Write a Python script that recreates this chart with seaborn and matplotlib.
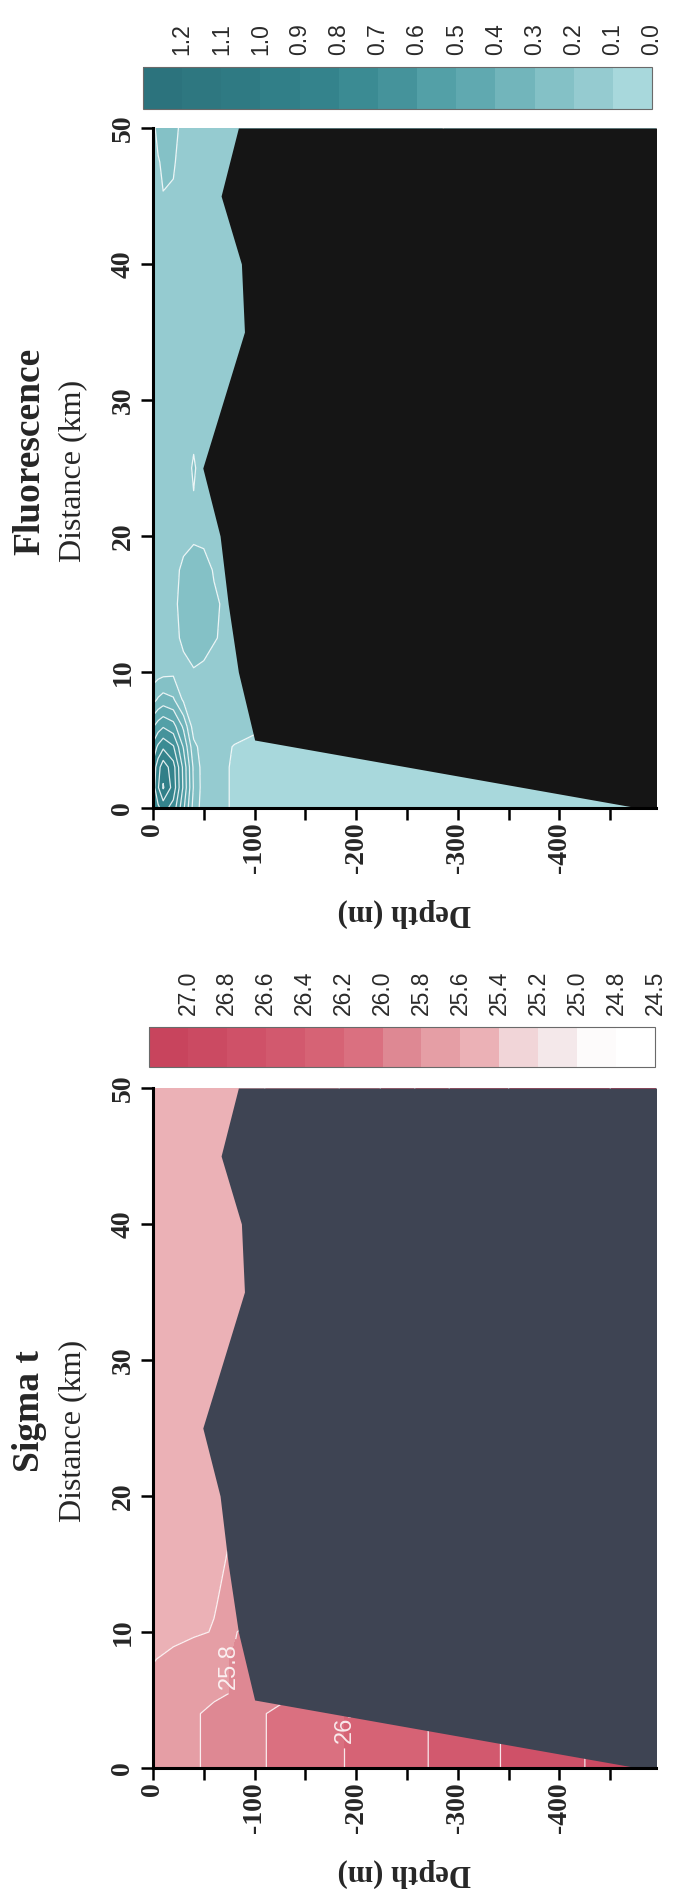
import numpy as np
import matplotlib
matplotlib.use("Agg")
import matplotlib.pyplot as plt
from matplotlib.colors import ListedColormap, BoundaryNorm
from matplotlib.transforms import offset_copy
import seaborn as sns

# ---------------------------------------------------------------
# Cross-shelf transect: distance offshore (km) and depth (m)
# ---------------------------------------------------------------
fl_distance = [0, 1.5, 3, 4.5, 6, 8, 10, 12.5, 15, 17.5, 20, 25, 30, 40, 47.5, 50]
fl_depth = [0, -5, -10, -20, -30, -40, -50, -60, -80, -100, -200, -500]
# rows follow fl_depth, columns follow fl_distance
fluorescence = [
    [0.67, 0.75, 0.73, 0.63, 0.49, 0.26, 0.15, 0.15, 0.15, 0.15, 0.15, 0.15, 0.15, 0.15, 0.16, 0.17],
    [0.78, 0.89, 0.86, 0.72, 0.55, 0.31, 0.16, 0.15, 0.15, 0.15, 0.15, 0.15, 0.15, 0.15, 0.19, 0.24],
    [0.84, 1.01, 0.96, 0.78, 0.59, 0.34, 0.17, 0.16, 0.16, 0.15, 0.15, 0.15, 0.15, 0.15, 0.22, 0.25],
    [0.76, 0.86, 0.84, 0.71, 0.54, 0.31, 0.18, 0.17, 0.18, 0.17, 0.16, 0.15, 0.15, 0.15, 0.21, 0.23],
    [0.52, 0.58, 0.57, 0.49, 0.38, 0.18, 0.17, 0.22, 0.23, 0.22, 0.17, 0.16, 0.15, 0.15, 0.16, 0.17],
    [0.26, 0.29, 0.28, 0.23, 0.15, 0.15, 0.19, 0.27, 0.28, 0.26, 0.18, 0.21, 0.16, 0.15, 0.15, 0.15],
    [0.15, 0.15, 0.15, 0.15, 0.15, 0.15, 0.17, 0.26, 0.27, 0.25, 0.17, 0.16, 0.15, 0.15, 0.15, 0.15],
    [0.13, 0.13, 0.13, 0.14, 0.15, 0.15, 0.15, 0.21, 0.22, 0.19, 0.15, 0.15, 0.15, 0.15, 0.15, 0.15],
    [0.09, 0.09, 0.09, 0.095, 0.14, 0.15, 0.15, 0.15, 0.15, 0.15, 0.15, 0.15, 0.15, 0.15, 0.15, 0.15],
    [0.06, 0.06, 0.06, 0.07, 0.12, 0.13, 0.13, 0.13, 0.13, 0.13, 0.13, 0.14, 0.14, 0.14, 0.14, 0.14],
    [0.05, 0.05, 0.05, 0.05, 0.06, 0.08, 0.11, 0.11, 0.11, 0.11, 0.12, 0.12, 0.12, 0.12, 0.12, 0.12],
    [0.05, 0.05, 0.05, 0.05, 0.05, 0.05, 0.05, 0.05, 0.05, 0.05, 0.05, 0.05, 0.05, 0.05, 0.05, 0.05],
]

st_distance = [0, 4, 5.5, 8, 10, 12, 16, 20, 30, 40, 50]
st_depth = [0, -20, -40, -60, -80, -100, -150, -200, -300, -400, -500]
# rows follow st_depth, columns follow st_distance
sigma_t = [
    [25.70, 25.70, 25.66, 25.59, 25.50, 25.48, 25.46, 25.45, 25.45, 25.45, 25.44],
    [25.74, 25.74, 25.70, 25.65, 25.54, 25.52, 25.50, 25.48, 25.47, 25.47, 25.46],
    [25.78, 25.78, 25.74, 25.72, 25.57, 25.56, 25.53, 25.51, 25.50, 25.50, 25.49],
    [25.84, 25.84, 25.77, 25.77, 25.61, 25.59, 25.56, 25.54, 25.53, 25.53, 25.52],
    [25.89, 25.89, 25.81, 25.81, 25.79, 25.66, 25.62, 25.58, 25.57, 25.56, 25.55],
    [25.97, 25.97, 25.88, 25.86, 25.86, 25.75, 25.68, 25.62, 25.61, 25.59, 25.58],
    [26.10, 26.10, 26.02, 25.98, 25.95, 25.88, 25.82, 25.75, 25.72, 25.70, 25.68],
    [26.23, 26.23, 26.19, 26.15, 26.10, 26.05, 26.01, 25.95, 25.90, 25.88, 25.86],
    [26.47, 26.47, 26.46, 26.45, 26.45, 26.45, 26.45, 26.45, 26.45, 26.45, 26.45],
    [26.78, 26.78, 26.77, 26.75, 26.75, 26.75, 26.75, 26.75, 26.75, 26.75, 26.75],
    [26.86, 26.86, 26.86, 26.85, 26.85, 26.85, 26.85, 26.85, 26.85, 26.85, 26.85],
]

# Sea-floor profile along the transect
bottom_distance = [0, 5, 10, 15, 20, 25, 35, 40, 45, 50]
bottom_depth = [-478, -100, -84, -74, -66, -49, -90, -87, -67, -84]

# Contour classes and colour keys
fl_levels = [0.0, 0.1, 0.2, 0.3, 0.4, 0.5, 0.6, 0.7, 0.8, 0.9, 1.0, 1.1, 1.2, 1.3]
fl_key_labels = ["0.0", "0.1", "0.2", "0.3", "0.4", "0.5", "0.6",
                 "0.7", "0.8", "0.9", "1.0", "1.1", "1.2"]
fl_colors = ["#a8d8dc", "#95cbd0", "#84c1c6", "#72b5bb", "#60a9b0", "#53a0a7", "#45939b",
             "#3b8b93", "#34838c", "#317f88", "#2f7a83", "#2e7780", "#2c737d"]

st_levels = [24.5, 24.8, 25.0, 25.2, 25.4, 25.6, 25.8, 26.0, 26.2, 26.4, 26.6, 26.8, 27.0, 27.2]
st_key_labels = ["24.5", "24.8", "25.0", "25.2", "25.4", "25.6", "25.8",
                 "26.0", "26.2", "26.4", "26.6", "26.8", "27.0"]
st_colors = ["#ffffff", "#fdfbfb", "#f4e8ea", "#f1d5d8", "#ebb1b6", "#e59ea5", "#de8893",
             "#da7080", "#d66375", "#d2596e", "#cf5168", "#cb4a62", "#c8445d"]

# isopycnals carrying an in-line label, with a point near where the label sits
st_labelled = [25.8, 26.2]
st_label_spots = [(-76, 7.5), (-186, 3.5)]

depth_ticks = [0, -100, -200, -300, -400]
depth_minor = [-50, -150, -250, -350, -450]
dist_ticks = [0, 10, 20, 30, 40, 50]

SERIF = "Liberation Serif"
SANS = "Liberation Sans"

sns.set_theme(style="ticks")
plt.rcParams["font.family"] = [SANS, "DejaVu Sans"]
plt.rcParams["axes.unicode_minus"] = False

W, H = 677, 1902
fig = plt.figure(figsize=(W / 100, H / 100), dpi=100)


def frac_box(x0, y0, x1, y1):
    """Pixel box (top-left origin) -> figure-fraction rectangle."""
    return [x0 / W, 1 - y1 / H, (x1 - x0) / W, (y1 - y0) / H]


def section(top, title, dist, depth, table, levels, colors, key_labels,
            cbar_box, mask_color, labelled=(), spots=()):
    ax = fig.add_axes(frac_box(153, top, 656, top + 680))
    cax = fig.add_axes(frac_box(*cbar_box))

    cmap = ListedColormap(sns.color_palette(colors))
    norm = BoundaryNorm(levels, cmap.N)
    field = np.array(table).T          # distance x depth
    cf = ax.contourf(depth, dist, field, levels=levels, cmap=cmap, norm=norm, zorder=1)
    line_kw = dict(colors="white", linewidths=0.9, alpha=0.85, zorder=2)
    plain = [lv for lv in levels if all(abs(lv - q) > 1e-6 for q in labelled)]
    ax.contour(depth, dist, field, levels=plain, **line_kw)
    for lv, spot in zip(labelled, spots):
        cs = ax.contour(depth, dist, field, levels=[lv], **line_kw)
        txts = cs.clabel(manual=[spot], inline=True, fmt="%.1f", fontsize=17,
                         colors="white")
        for t in txts:
            t.set_rotation(90)
            t.set_zorder(3)

    # sea floor
    ax.fill_betweenx(bottom_distance, bottom_depth, -600, color=mask_color,
                     linewidth=0, zorder=4)

    ax.set_xlim(0, -495)
    ax.set_ylim(0, 50)
    sns.despine(ax=ax)
    for s in ("left", "bottom"):
        ax.spines[s].set_linewidth(2.2)
        ax.spines[s].set_color("black")
        ax.spines[s].set_zorder(6)

    ax.set_xticks(depth_ticks, labels=[str(v) for v in depth_ticks], rotation=90,
                  fontsize=20, fontweight="bold", family=SERIF)
    ax.set_xticks(depth_minor, minor=True)
    ax.set_yticks(dist_ticks, labels=[str(v) for v in dist_ticks], rotation=90,
                  fontsize=20, fontweight="bold", family=SERIF, va="center")
    ax.tick_params(which="both", length=8.6, width=1.8, color="black", direction="out")
    ax.tick_params(axis="x", which="both", pad=2)
    ax.tick_params(axis="y", pad=4)

    ax.text(-0.245, 0.525, title, transform=ax.transAxes, rotation=90, ha="center",
            va="center", fontsize=27, fontweight="bold", family=SERIF)
    ax.text(-0.16, 0.495, "Distance (km)", transform=ax.transAxes, rotation=90,
            ha="center", va="center", fontsize=23, family=SERIF)
    ax.text(0.5, -0.153, "Depth (m)", transform=ax.transAxes, rotation=180,
            ha="center", va="center", fontsize=22, fontweight="bold", family=SERIF)

    # colour key: one box per class, highest class on the left
    cb = fig.colorbar(cf, cax=cax, orientation="horizontal", drawedges=True)
    cax.invert_xaxis()
    cax.minorticks_off()
    cax.tick_params(axis="both", which="both", length=0, labelbottom=False,
                    labeltop=False, labelleft=False, labelright=False)
    above = offset_copy(cax.get_xaxis_transform(), fig=fig, y=12, units="dots")
    for v, lab in zip(levels[:-1], key_labels):
        cax.text(v, 1, lab, transform=above, rotation=90, ha="center", va="bottom",
                 fontsize=16.5, color="#2a2a2a", family=SANS)
    cb.outline.set_edgecolor("#6a6a6a")
    cb.outline.set_linewidth(0.8)
    cb.dividers.set_color("#5a5a5a")
    cb.dividers.set_linewidth(0.6)
    return ax


section(128, "Fluorescence", fl_distance, fl_depth, fluorescence, fl_levels,
        fl_colors, fl_key_labels, (143, 67, 652, 109), "#151515")

section(1088, "Sigma t", st_distance, st_depth, sigma_t, st_levels,
        st_colors, st_key_labels, (149, 1027, 655, 1067), "#3e4453",
        labelled=st_labelled, spots=st_label_spots)

fig.savefig("out.png", dpi=100)
